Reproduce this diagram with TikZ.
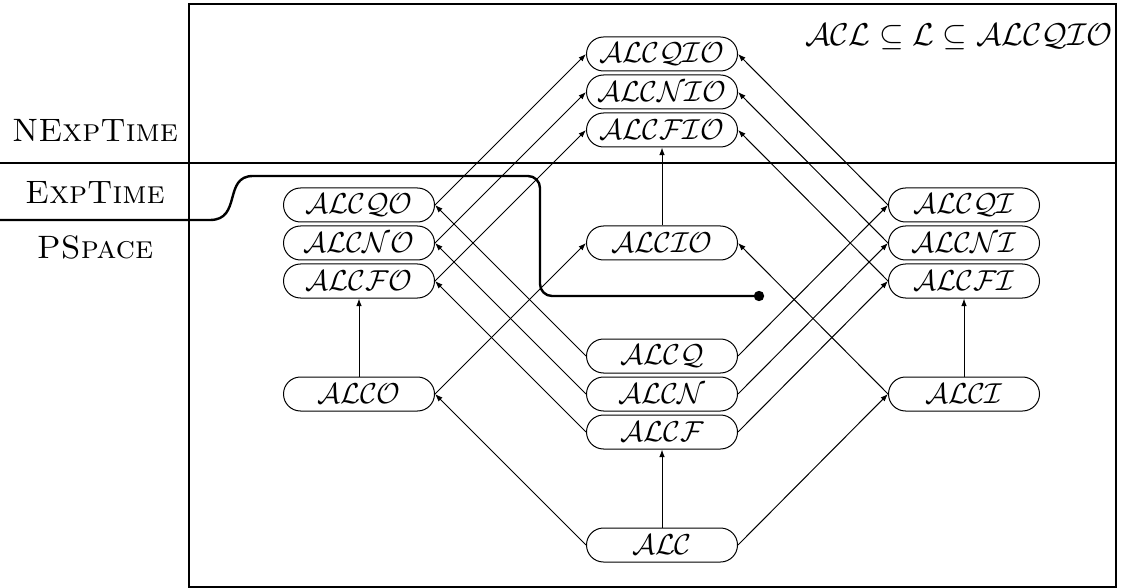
\documentclass[tikz,border=0pt]{standalone}
\usetikzlibrary{arrows.meta}
\begin{document}
\begin{tikzpicture}[x=0.5pt,y=-0.5pt,
  dl/.style={draw, line width=0.5pt, rounded corners=8.5pt, minimum width=75.5pt,
    minimum height=17pt, inner sep=0pt, font=\fontsize{14.4}{17}\selectfont},
  ar/.style={-{Latex[length=3.8pt,width=2.8pt]}, line width=0.5pt},
  lab/.style={font=\fontsize{16.2}{19}\selectfont, inner sep=0pt},
  sep/.style={line width=1.2pt}]
\useasboundingbox (0,0) rectangle (1124,588);
\draw[line width=0.8pt] (189,4) rectangle (1116,587);
\draw[sep] (0,163) -- (1116,163);
\draw[sep] (0,220) -- (210,220) .. controls (242,220) and (223,176) .. (253,176);
\draw[sep, rounded corners=6pt] (253,176) -- (540,176) -- (540,296) -- (759,296);
\fill (759,296) circle[radius=2.6pt];

\node[lab] (nexp) at (95,130) {\textsc{NExpTime}};
\node[lab] (exp) at (95,192) {\textsc{ExpTime}};
\node[lab] (pspace) at (95,247) {\textsc{PSpace}};
\node[lab, font=\fontsize{14.4}{17}\selectfont, scale=1.095] (title) at (959,37) {$\mathcal{ACL}\subseteq\mathcal{L}\subseteq\mathcal{ALCQIO}$};

\node[dl] (qio) at (662,54) {$\mathcal{ALCQIO}$};
\node[dl] (nio) at (662,92) {$\mathcal{ALCNIO}$};
\node[dl] (fio) at (662,130) {$\mathcal{ALCFIO}$};
\node[dl] (qo) at (359,205) {$\mathcal{ALCQO}$};
\node[dl] (no) at (359,243) {$\mathcal{ALCNO}$};
\node[dl] (fo) at (359,281) {$\mathcal{ALCFO}$};
\node[dl] (io) at (662,243) {$\mathcal{ALCIO}$};
\node[dl] (qi) at (964,205) {$\mathcal{ALCQI}$};
\node[dl] (ni) at (964,243) {$\mathcal{ALCNI}$};
\node[dl] (fi) at (964,281) {$\mathcal{ALCFI}$};
\node[dl] (o) at (359,394) {$\mathcal{ALCO}$};
\node[dl] (q) at (662,356) {$\mathcal{ALCQ}$};
\node[dl] (n) at (662,394) {$\mathcal{ALCN}$};
\node[dl] (f) at (662,432) {$\mathcal{ALCF}$};
\node[dl] (i) at (964,394) {$\mathcal{ALCI}$};
\node[dl] (alc) at (662,545) {$\mathcal{ALC}$};

\draw[ar] (alc) -- (f);
\draw[ar] (alc.west) -- (o.east);
\draw[ar] (alc.east) -- (i.west);
\draw[ar] (o) -- (fo);
\draw[ar] (i) -- (fi);
\draw[ar] (io) -- (fio);
\draw[ar] (o.east) -- (io.west);
\draw[ar] (i.west) -- (io.east);
\draw[ar] (f.west) -- (fo.east);
\draw[ar] (n.west) -- (no.east);
\draw[ar] (q.west) -- (qo.east);
\draw[ar] (f.east) -- (fi.west);
\draw[ar] (n.east) -- (ni.west);
\draw[ar] (q.east) -- (qi.west);
\draw[ar] (fo.east) -- (fio.west);
\draw[ar] (no.east) -- (nio.west);
\draw[ar] (qo.east) -- (qio.west);
\draw[ar] (fi.west) -- (fio.east);
\draw[ar] (ni.west) -- (nio.east);
\draw[ar] (qi.west) -- (qio.east);
\end{tikzpicture}
\end{document}
